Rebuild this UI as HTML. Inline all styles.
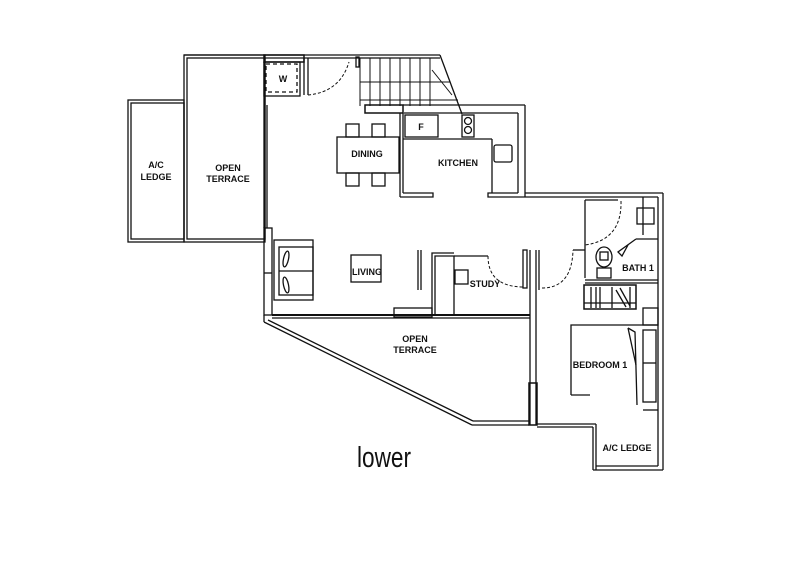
<!DOCTYPE html>
<html><head><style>
html,body{margin:0;padding:0;background:#fff;}
svg{display:block;}
text{font-family:"Liberation Sans",Arial,sans-serif;font-weight:bold;fill:#111;font-size:9px;}
</style></head><body>
<svg width="800" height="566" viewBox="0 0 800 566" xmlns="http://www.w3.org/2000/svg">
<g fill="none" stroke="#111" stroke-width="1.3">
<!-- A/C ledge left -->
<rect x="128" y="100" width="56" height="142"/>
<rect x="131" y="103" width="53" height="136"/>
<!-- open terrace left -->
<rect x="184" y="55" width="81" height="187"/>
<rect x="187" y="58" width="78" height="181"/>
<!-- top wall -->
<line x1="184" y1="55" x2="440" y2="55"/>
<line x1="264" y1="58" x2="440" y2="58"/>
<rect x="264" y="55" width="40" height="7" stroke-width="1.5"/>
<!-- W -->
<rect x="266" y="64" width="31" height="28" stroke-dasharray="4,3"/>
<rect x="264" y="62" width="36" height="34"/>
<line x1="308" y1="58" x2="308" y2="95"/>
<line x1="304" y1="58" x2="304" y2="95"/>
<path d="M308 95 Q340 92 349 62" stroke-dasharray="3,2" stroke-width="1"/>
<rect x="356" y="57" width="3" height="10"/>
<!-- stairs -->
<g stroke-width="1">
<line x1="360" y1="58" x2="360" y2="106"/>
<line x1="370" y1="58" x2="370" y2="106"/>
<line x1="380" y1="58" x2="380" y2="106"/>
<line x1="390" y1="58" x2="390" y2="106"/>
<line x1="400" y1="58" x2="400" y2="106"/>
<line x1="410" y1="58" x2="410" y2="106"/>
<line x1="420" y1="58" x2="420" y2="106"/>
<line x1="430" y1="58" x2="430" y2="106"/>
<line x1="360" y1="82" x2="450" y2="82"/>
<line x1="360" y1="100" x2="458" y2="100"/>
<line x1="432" y1="70" x2="452" y2="95"/>
</g>
<line x1="440" y1="55" x2="462" y2="114"/>
<rect x="365" y="105" width="38" height="8" stroke-width="1.5"/>
<!-- kitchen -->
<line x1="403" y1="105" x2="525" y2="105"/>
<line x1="404" y1="113" x2="518" y2="113"/>
<line x1="525" y1="105" x2="525" y2="197"/>
<line x1="518" y1="113" x2="518" y2="193"/>
<line x1="403" y1="113" x2="403" y2="193"/>
<line x1="400" y1="113" x2="400" y2="197"/>
<line x1="403" y1="139" x2="492" y2="139"/>
<line x1="492" y1="139" x2="492" y2="193"/>
<path d="M400 197 H433 V193 H403"/>
<path d="M525 197 H488 V193 H518"/>
<rect x="405" y="115" width="33" height="22"/>
<rect x="462" y="115" width="12" height="22"/>
<circle cx="468" cy="121" r="3.5"/><circle cx="468" cy="130" r="3.5"/>
<rect x="494" y="145" width="18" height="17" rx="2"/>
<!-- dining -->
<rect x="337" y="137" width="62" height="36"/>
<rect x="346" y="124" width="13" height="13"/><rect x="372" y="124" width="13" height="13"/>
<rect x="346" y="173" width="13" height="13"/><rect x="372" y="173" width="13" height="13"/>
<!-- main left wall -->
<line x1="264" y1="62" x2="264" y2="228"/>
<line x1="267" y1="105" x2="267" y2="228"/>
<rect x="264" y="228" width="8" height="87"/>
<line x1="264" y1="273" x2="272" y2="273"/>
<!-- sofa -->
<rect x="274" y="240" width="39" height="60"/>
<rect x="279" y="247" width="34" height="48"/>
<line x1="279" y1="271" x2="313" y2="271"/>
<ellipse cx="286" cy="259" rx="2.5" ry="8" transform="rotate(12 286 259)"/>
<ellipse cx="286" cy="285" rx="2.5" ry="8" transform="rotate(-12 286 285)"/>
<!-- living -->
<rect x="351" y="255" width="30" height="27"/>
<!-- terrace top wall -->
<line x1="272" y1="315" x2="530" y2="315" stroke-width="2"/>
<line x1="272" y1="318" x2="530" y2="318"/>
<rect x="394" y="308" width="38" height="9"/>
<!-- study -->
<line x1="418" y1="250" x2="418" y2="290"/><line x1="421" y1="250" x2="421" y2="290"/>
<path d="M432 315 V253 H454"/><path d="M435 315 V256 H454 V315"/>
<rect x="455" y="270" width="13" height="14"/>
<line x1="454" y1="256" x2="488" y2="256"/>
<path d="M488 256 Q488 287 524 287" stroke-dasharray="3,2" stroke-width="1"/>
<rect x="523" y="250" width="4" height="38"/>
<!-- vertical wall -->
<line x1="530" y1="250" x2="530" y2="425"/><line x1="536" y1="250" x2="536" y2="425"/>
<rect x="529" y="383" width="8" height="42" stroke-width="1.5"/>
<line x1="539" y1="250" x2="539" y2="290"/>
<path d="M542 288 Q572 288 573 250" stroke-dasharray="3,2" stroke-width="1"/>
<line x1="573" y1="250" x2="585" y2="250"/>
<!-- right walls -->
<line x1="525" y1="193" x2="663" y2="193"/>
<line x1="525" y1="197" x2="658" y2="197"/>
<line x1="663" y1="193" x2="663" y2="470"/>
<line x1="658" y1="197" x2="658" y2="466"/>
<!-- bath -->
<line x1="585" y1="200" x2="585" y2="278"/>
<line x1="585" y1="200" x2="618" y2="200"/>
<path d="M621 201 Q622 240 585 245" stroke-dasharray="3,2" stroke-width="1"/>
<line x1="643" y1="197" x2="643" y2="235"/>
<rect x="637" y="208" width="17" height="16"/>
<path d="M636 239 H658 M636 239 L618 252 L622 256 L628 245"/>
<ellipse cx="604" cy="257" rx="8" ry="10"/>
<rect x="600" y="252" width="8" height="8"/>
<rect x="597" y="268" width="14" height="10"/>
<line x1="585" y1="280" x2="658" y2="280"/>
<line x1="585" y1="283" x2="658" y2="283"/>
<!-- wardrobe -->
<rect x="584" y="285" width="52" height="24" stroke-width="1.5"/>
<line x1="584" y1="303" x2="636" y2="303"/>
<line x1="591" y1="287" x2="591" y2="308"/><line x1="596" y1="287" x2="596" y2="308"/><line x1="600" y1="287" x2="600" y2="308"/>
<line x1="612" y1="287" x2="612" y2="308"/><line x1="616" y1="290" x2="626" y2="307"/><line x1="620" y1="288" x2="630" y2="306"/><line x1="630" y1="287" x2="630" y2="308"/>
<rect x="643" y="308" width="15" height="17"/>
<!-- bedroom -->
<path d="M571 395 H590 M571 395 V325 H658"/>
<rect x="643" y="330" width="13" height="72"/>
<line x1="643" y1="363" x2="656" y2="363"/>
<path d="M628 328 L635 332 L637 405"/>
<line x1="628" y1="328" x2="636" y2="365"/>
<line x1="643" y1="410" x2="658" y2="410"/>
<!-- bottom -->
<line x1="537" y1="424" x2="596" y2="424"/>
<line x1="537" y1="427" x2="593" y2="427"/>
<line x1="596" y1="424" x2="596" y2="470"/>
<line x1="593" y1="427" x2="593" y2="470"/>
<line x1="596" y1="466" x2="658" y2="466"/>
<line x1="593" y1="470" x2="663" y2="470"/>
<!-- diagonal terrace -->
<line x1="264" y1="315" x2="264" y2="322"/>
<line x1="264" y1="322" x2="472" y2="425"/>
<line x1="268" y1="320" x2="473" y2="421"/>
<line x1="472" y1="425" x2="529" y2="425"/>
<line x1="473" y1="421" x2="529" y2="421"/>
</g>
<text x="156" y="168" text-anchor="middle">A/C</text>
<text x="156" y="180" text-anchor="middle">LEDGE</text>
<text x="228" y="171" text-anchor="middle">OPEN</text>
<text x="228" y="182" text-anchor="middle">TERRACE</text>
<text x="283" y="82" text-anchor="middle">W</text>
<text x="421" y="130" text-anchor="middle">F</text>
<text x="367" y="157" text-anchor="middle">DINING</text>
<text x="458" y="166" text-anchor="middle">KITCHEN</text>
<text x="367" y="275" text-anchor="middle">LIVING</text>
<text x="485" y="287" text-anchor="middle">STUDY</text>
<text x="638" y="271" text-anchor="middle">BATH 1</text>
<text x="415" y="342" text-anchor="middle">OPEN</text>
<text x="415" y="353" text-anchor="middle">TERRACE</text>
<text x="600" y="368" text-anchor="middle">BEDROOM 1</text>
<text x="627" y="451" text-anchor="middle">A/C LEDGE</text>
<text x="357" y="467" textLength="54" lengthAdjust="spacingAndGlyphs" style="font-size:29px;font-weight:normal">lower</text>
</svg>
</body></html>
